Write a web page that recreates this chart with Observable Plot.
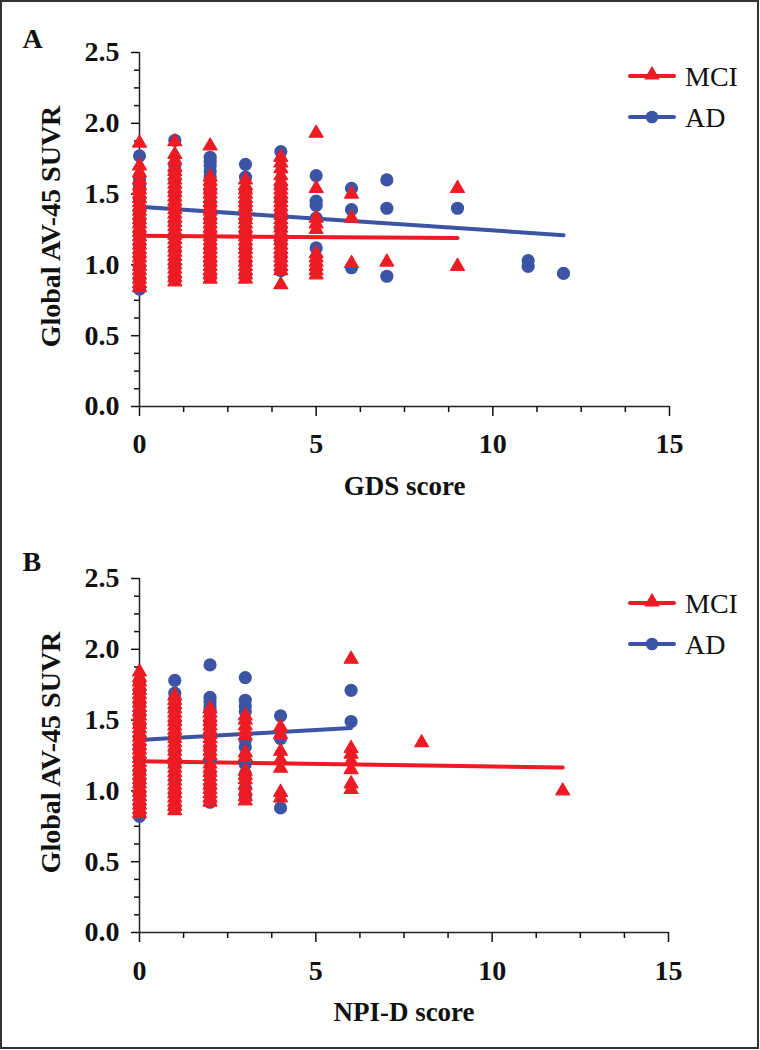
<!DOCTYPE html>
<html><head><meta charset="utf-8">
<script src="https://cdn.jsdelivr.net/npm/d3@7"></script>
<script src="https://cdn.jsdelivr.net/npm/@observablehq/plot@0.6"></script>
<style>
body{margin:0;background:#fff;}
#fig{position:relative;width:760px;height:1050px;overflow:hidden;background:#fff;}
#border{position:absolute;left:0;top:0;width:759px;height:1049px;box-sizing:border-box;border:2px solid #333;pointer-events:none;}
.abs{position:absolute;left:0;}
</style></head><body><div id="fig"><div id="border"></div></div>
<script>
const RED = "#ED1C24", BLUE = "#3B54A4";
const groups = ["MCI", "AD"];
const xMajor = [0, 5, 10, 15];
const xMinor = [1.25, 2.5, 3.75, 6.25, 7.5, 8.75, 11.25, 12.5, 13.75];
const yMajor = [0, 0.5, 1, 1.5, 2, 2.5];
const yMinor = [0.125, 0.25, 0.375, 0.625, 0.75, 0.875, 1.125, 1.25, 1.375, 1.625, 1.75, 1.875, 2.125, 2.25, 2.375];

// Panel A: GDS score vs Global AV-45 SUVR — [score, [SUVR values]]
const gdsMCI = [
  [0, [0.84,0.87,0.90,0.93,0.96,0.99,1.02,1.05,1.08,1.11,1.14,1.17,1.20,1.23,1.26,1.29,1.32,1.35,1.38,1.41,1.44,1.47,1.50,1.53,1.56,1.60,1.65,1.70,1.86]],
  [1, [0.88,0.91,0.94,0.97,1.00,1.03,1.06,1.09,1.12,1.15,1.18,1.21,1.24,1.27,1.30,1.33,1.36,1.39,1.42,1.45,1.48,1.51,1.54,1.57,1.60,1.63,1.66,1.69,1.74,1.78,1.87]],
  [2, [0.90,0.93,0.96,0.99,1.02,1.05,1.08,1.11,1.14,1.17,1.20,1.23,1.26,1.29,1.32,1.35,1.38,1.41,1.44,1.47,1.50,1.53,1.56,1.59,1.62,1.84]],
  [3, [0.90,0.93,0.96,0.99,1.02,1.05,1.08,1.11,1.14,1.17,1.20,1.23,1.26,1.29,1.32,1.35,1.38,1.41,1.44,1.47,1.50,1.53,1.56,1.60]],
  [4, [0.86,0.96,0.99,1.02,1.05,1.08,1.11,1.14,1.17,1.20,1.23,1.26,1.29,1.32,1.35,1.38,1.41,1.44,1.47,1.50,1.53,1.56,1.59,1.63,1.68,1.72,1.76]],
  [5, [0.93,0.96,0.99,1.02,1.05,1.08,1.25,1.29,1.33,1.54,1.93]],
  [6, [1.01,1.33,1.50]],
  [7, [1.02]],
  [9, [0.99,1.54]]
];
const gdsAD = [
  [0, [0.83,0.90,0.98,1.06,1.14,1.22,1.30,1.38,1.46,1.53,1.56,1.59,1.62,1.77]],
  [1, [0.90,1.00,1.10,1.20,1.30,1.40,1.50,1.60,1.66,1.70,1.88]],
  [2, [0.92,1.02,1.12,1.22,1.32,1.42,1.52,1.62,1.66,1.70,1.73,1.76]],
  [3, [0.92,1.02,1.12,1.22,1.32,1.42,1.52,1.62,1.71]],
  [4, [0.96,1.06,1.16,1.26,1.36,1.46,1.55,1.80]],
  [5, [1.12,1.33,1.42,1.45,1.63]],
  [6, [0.98,1.39,1.54]],
  [7, [0.92,1.40,1.60]],
  [9, [1.40]],
  [11, [0.99,1.03]],
  [12, [0.94]]
];
const gdsFitMCI = [[0, 1.205], [9, 1.19]];
const gdsFitAD = [[0, 1.41], [12, 1.21]];

// Panel B: NPI-D score vs Global AV-45 SUVR
const npiMCI = [
  [0, [0.84,0.87,0.90,0.93,0.96,0.99,1.02,1.05,1.08,1.11,1.14,1.17,1.20,1.23,1.26,1.29,1.32,1.35,1.38,1.41,1.44,1.47,1.50,1.53,1.56,1.59,1.62,1.65,1.68,1.71,1.74,1.77,1.80,1.84]],
  [1, [0.86,0.89,0.92,0.95,0.98,1.01,1.04,1.07,1.10,1.13,1.16,1.19,1.22,1.25,1.28,1.31,1.34,1.37,1.40,1.43,1.46,1.49,1.52,1.55,1.58,1.61,1.64,1.67]],
  [2, [0.92,0.95,0.98,1.01,1.04,1.07,1.10,1.13,1.16,1.19,1.25,1.28,1.31,1.34,1.37,1.40,1.43,1.46,1.49,1.52,1.55,1.58]],
  [3, [0.93,0.96,1.00,1.04,1.08,1.11,1.14,1.24,1.27,1.39,1.42,1.46,1.50,1.53]],
  [4, [0.95,0.99,1.16,1.22,1.28,1.40,1.45]],
  [6, [1.01,1.05,1.15,1.21,1.26,1.30,1.93]],
  [8, [1.34]],
  [12, [1.00]]
];
const npiAD = [
  [0, [0.82,0.90,0.98,1.06,1.14,1.22,1.30,1.38,1.46,1.54,1.62,1.70,1.77]],
  [1, [0.88,0.98,1.08,1.18,1.28,1.38,1.48,1.58,1.65,1.69,1.78]],
  [2, [0.92,1.02,1.12,1.22,1.30,1.39,1.48,1.57,1.60,1.63,1.66,1.89]],
  [3, [0.96,1.02,1.12,1.19,1.31,1.36,1.56,1.60,1.64,1.80]],
  [4, [0.88,1.37,1.53]],
  [6, [1.49,1.71]]
];
const npiFitMCI = [[0, 1.21], [12, 1.165]];
const npiFitAD = [[0, 1.36], [6, 1.445]];

const SERIF = "'Liberation Serif','Times New Roman',serif";
const flatten = cols => cols.flatMap(([x, ys]) => ys.map(y => ({x, y})));
const TRI_R = 5.1, DOT_R = 6.6;

function panel({letter, xLabel, mci, ad, fitMCI, fitAD, height, marginTop, marginBottom, marginRight, letterDy, tickPad}) {
  const axisStyle = {stroke: "#222", strokeWidth: 1.5};
  return Plot.plot({
    width: 760, height, marginLeft: 139, marginRight, marginTop, marginBottom,
    x: {domain: [0, 15]}, y: {domain: [0, 2.5]},
    style: {fontFamily: SERIF, color: "#111", background: "transparent", overflow: "visible"},
    marks: [
      Plot.ruleX([0], {y1: 0, y2: 2.5, ...axisStyle}),
      Plot.ruleY([0], {x1: 0, x2: 15, ...axisStyle}),
      Plot.axisY(yMinor, {tickSize: 5, tickFormat: () => "", label: null, strokeWidth: 1.5}),
      Plot.axisY(yMajor, {tickSize: 8, tickPadding: 12, tickFormat: d3.format(".1f"), label: null, fontSize: 28, fontWeight: "bold", strokeWidth: 1.5}),
      Plot.axisX(xMinor, {tickSize: 6, tickFormat: () => "", label: null, strokeWidth: 1.5}),
      Plot.axisX(xMajor, {tickSize: 10, tickPadding: tickPad, tickFormat: d3.format("d"), label: null, fontSize: 28, fontWeight: "bold", strokeWidth: 1.5}),
      Plot.line(fitAD, {x: d => d[0], y: d => d[1], stroke: BLUE, strokeWidth: 4, strokeLinecap: "round"}),
      Plot.line(fitMCI, {x: d => d[0], y: d => d[1], stroke: RED, strokeWidth: 4, strokeLinecap: "round"}),
      Plot.dot(flatten(ad), {x: "x", y: "y", r: DOT_R, symbol: "circle", fill: BLUE}),
      Plot.dot(flatten(mci), {x: "x", y: "y", r: TRI_R, symbol: "triangle", fill: RED, stroke: RED, strokeWidth: 1.3, strokeLinejoin: "round"}),
      Plot.text([letter], {frameAnchor: "top-left", dx: -117, dy: letterDy, textAnchor: "start", lineAnchor: "bottom", fontSize: 28, fontWeight: "bold", fill: "#111"}),
      Plot.text(["Global AV-45 SUVR"], {frameAnchor: "left", rotate: -90, dx: -88, dy: -3, textAnchor: "middle", lineAnchor: "middle", fontSize: 28, fontWeight: "bold", fill: "#111"}),
      Plot.text([xLabel], {frameAnchor: "bottom", dy: 80, textAnchor: "middle", lineAnchor: "middle", fontSize: 27, fontWeight: "bold", fill: "#111"})
    ]
  });
}

function legend(top, rows) {
  const svg = d3.create("svg").attr("width", 760).attr("height", 160)
    .attr("class", "abs").style("top", top + "px").style("overflow", "visible");
  rows.forEach(r => {
    const g = svg.append("g");
    g.append("line").attr("x1", 630).attr("x2", 674).attr("y1", r.y).attr("y2", r.y)
      .attr("stroke", r.color).attr("stroke-width", 4).attr("stroke-linecap", "round");
    if (r.symbol === "triangle") {
      g.append("path").attr("d", d3.symbol(d3.symbolTriangle, Math.PI * TRI_R * TRI_R)())
        .attr("transform", `translate(652,${r.y - 1})`).attr("fill", r.color)
        .attr("stroke", r.color).attr("stroke-width", 1.3).attr("stroke-linejoin", "round");
    } else {
      g.append("circle").attr("cx", 652).attr("cy", r.y).attr("r", 6.3).attr("fill", r.color);
    }
    g.append("text").attr("x", 685).attr("y", r.y + 10).text(r.name)
      .attr("font-family", SERIF).attr("font-size", 28).attr("fill", "#111");
  });
  return svg.node();
}

const fig = document.getElementById("fig");
const border = document.getElementById("border");

const pA = panel({letter: "A", xLabel: "GDS score", mci: gdsMCI, ad: gdsAD, fitMCI: gdsFitMCI, fitAD: gdsFitAD,
  height: 520, marginTop: 52, marginBottom: 114, marginRight: 91, letterDy: -5, tickPad: 17});
pA.classList.add("abs"); pA.style.top = "0px";
fig.insertBefore(pA, border);

const pB = panel({letter: "B", xLabel: "NPI-D score", mci: npiMCI, ad: npiAD, fitMCI: npiFitMCI, fitAD: npiFitAD,
  height: 530, marginTop: 58, marginBottom: 118, marginRight: 92, letterDy: -8, tickPad: 18});
pB.classList.add("abs"); pB.style.top = "520px";
fig.insertBefore(pB, border);

const symbols = {MCI: ["triangle", RED], AD: ["circle", BLUE]};
fig.insertBefore(legend(0, groups.map((g, i) => ({name: g, color: symbols[g][1], symbol: symbols[g][0], y: [76, 117][i]}))), border);
fig.insertBefore(legend(520, groups.map((g, i) => ({name: g, color: symbols[g][1], symbol: symbols[g][0], y: [83, 124][i]}))), border);
</script></body></html>
